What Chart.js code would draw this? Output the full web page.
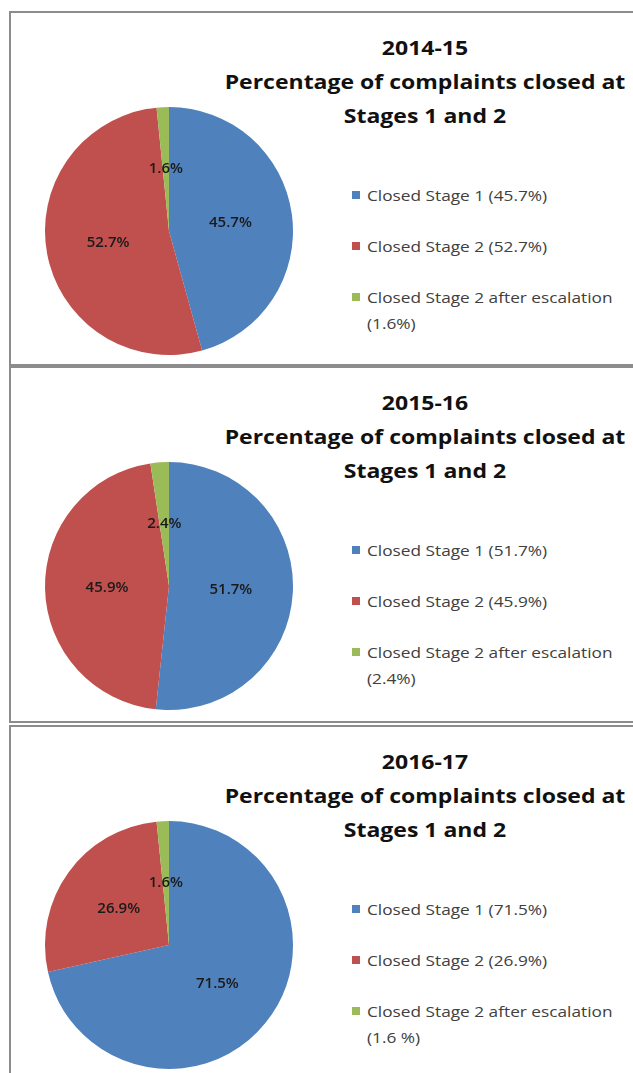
<!DOCTYPE html>
<html>
<head>
<meta charset="utf-8">
<title>Percentage of complaints closed at Stages 1 and 2</title>
<script src="https://cdn.jsdelivr.net/npm/chart.js@4.4.0/dist/chart.umd.min.js"></script>
<style>
  body {
    margin: 0;
    width: 633px;
    height: 1073px;
    overflow: hidden;
    background: #fff;
    font-family: 'Open Sans', sans-serif;
  }
  .panel {
    position: absolute;
    left: 9px;
    width: 640px;
    box-sizing: border-box;
    border: 2px solid #8c8c8c;
    border-right: none;
    background: #fff;
  }
  .panel canvas {
    position: absolute;
    left: 28px;
    top: 88px;
  }
  .title {
    position: absolute;
    left: 194px;
    top: 18px;
    width: 440px;
    text-align: center;
    font-weight: bold;
    font-size: 20px;
    line-height: 34px;
    color: #111;
    transform: scaleX(1.15);
    transform-origin: 50% 0;
    white-space: nowrap;
  }
  .legend-item {
    position: absolute;
    left: 341px;
    font-size: 15px;
    line-height: 26px;
    color: #404040;
  }
  .legend-item .box {
    position: absolute;
    left: 0;
    top: 9px;
    width: 8px;
    height: 8px;
  }
  .legend-item .text {
    position: absolute;
    left: 15px;
    top: 0;
    width: 232px;
    transform: scaleX(1.15);
    transform-origin: 0 0;
  }
</style>
</head>
<body>
<script>
// Data
const categories = ['Closed Stage 1', 'Closed Stage 2', 'Closed Stage 2 after escalation'];
const years = ['2014-15', '2015-16', '2016-17'];
const values1415 = [45.7, 52.7, 1.6];
const values1516 = [51.7, 45.9, 2.4];
const values1617 = [71.5, 26.9, 1.6];
const legend1415 = ['Closed Stage 1 (45.7%)', 'Closed Stage 2 (52.7%)', 'Closed Stage 2 after escalation (1.6%)'];
const legend1516 = ['Closed Stage 1 (51.7%)', 'Closed Stage 2 (45.9%)', 'Closed Stage 2 after escalation (2.4%)'];
const legend1617 = ['Closed Stage 1 (71.5%)', 'Closed Stage 2 (26.9%)', 'Closed Stage 2 after escalation (1.6 %)'];
const titleLines = ['Percentage of complaints closed at', 'Stages 1 and 2'];

const sliceColors = ['#4F81BD', '#C0504D', '#9BBB59'];

// panel layout (outer top, height)
const panels = [
  { top: 11, height: 355, values: values1415, legend: legend1415 },
  { top: 366, height: 357, values: values1516, legend: legend1516 },
  { top: 725, height: 400, values: values1617, legend: legend1617 }
];
const legendTops = [169, 220, 271];

// percentage labels at each slice centroid
const sliceLabels = {
  id: 'sliceLabels',
  afterDatasetsDraw(chart) {
    const ctx = chart.ctx;
    const meta = chart.getDatasetMeta(0);
    const data = chart.data.datasets[0].data;
    ctx.save();
    ctx.font = '600 15px "Open Sans"';
    ctx.fillStyle = '#1a1a1a';
    ctx.textAlign = 'center';
    ctx.textBaseline = 'middle';
    meta.data.forEach((arc, i) => {
      const p = arc.tooltipPosition();
      ctx.fillText(data[i].toFixed(1) + '%', p.x, p.y);
    });
    ctx.restore();
  }
};

panels.forEach((p, idx) => {
  const panel = document.createElement('div');
  panel.className = 'panel';
  panel.style.top = p.top + 'px';
  panel.style.height = p.height + 'px';
  document.body.appendChild(panel);

  const title = document.createElement('div');
  title.className = 'title';
  title.innerHTML = [years[idx]].concat(titleLines).join('<br>');
  panel.appendChild(title);

  p.legend.forEach((txt, i) => {
    const item = document.createElement('div');
    item.className = 'legend-item';
    item.style.top = legendTops[i] + 'px';
    const box = document.createElement('span');
    box.className = 'box';
    box.style.background = sliceColors[i];
    const text = document.createElement('span');
    text.className = 'text';
    text.textContent = txt;
    item.appendChild(box);
    item.appendChild(text);
    panel.appendChild(item);
  });

  const canvas = document.createElement('canvas');
  canvas.width = 260;
  canvas.height = 260;
  panel.appendChild(canvas);

  new Chart(canvas.getContext('2d'), {
    type: 'pie',
    data: {
      labels: categories,
      datasets: [{
        data: p.values,
        backgroundColor: sliceColors,
        borderWidth: 0
      }]
    },
    options: {
      responsive: false,
      animation: false,
      layout: { padding: 6 },
      plugins: {
        legend: { display: false },
        tooltip: { enabled: false }
      }
    },
    plugins: [sliceLabels]
  });
});
</script>
</body>
</html>
